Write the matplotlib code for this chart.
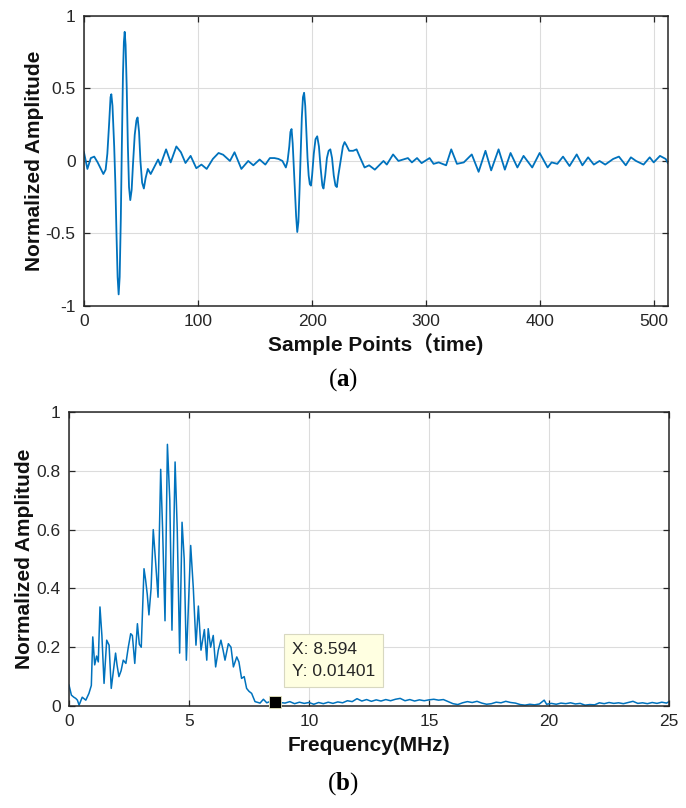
import numpy as np
import matplotlib.pyplot as plt

# time signal (sample index, normalized amplitude)
sig_x = [0, 3, 6, 9, 12, 17, 19, 20.5, 22, 23.3, 24, 25, 26.5, 27.5, 28.5, 29.5, 30.4, 31.3,
         32.3, 33.2, 34.2, 35, 35.7, 36.5, 37.5, 38.5, 39.5, 40.6, 41.8, 43, 44.5, 46, 47,
         48.3, 49.5, 51, 52.5, 54, 56, 58.5, 65, 67, 72, 76, 81, 85, 89, 93.5, 98.5, 103, 107.6,
         113, 118, 122, 128, 132, 138, 144, 148.5, 154, 159, 163, 167, 170.5, 174, 177, 178.5,
         180, 181, 182, 183, 184, 185, 186, 187, 188, 189, 190, 191, 192, 193, 194, 195, 196,
         197, 198, 199, 200, 201.5, 203, 204.5, 206, 207.5, 209, 210, 211.5, 213, 214.5, 216,
         217.5, 219, 220.5, 221.7, 223, 225, 227, 228.5, 230, 232.5, 236, 239, 242, 246, 250,
         255, 262.6, 265.5, 271, 275.7, 280, 284, 287.5, 292, 296, 303, 306.5, 311, 317.5, 322,
         327, 333, 340, 346, 352, 357, 363.5, 369, 374, 380, 385.4, 393, 399.5, 406.5, 410, 415,
         420, 425.7, 432, 437, 442, 447, 452, 457, 464, 469, 475, 479.5, 484, 490.6, 496, 499.5,
         505, 510, 512]
sig_y = [0.06, -0.055, 0.02, 0.03, -0.01, -0.09, -0.06, 0.05, 0.25, 0.44, 0.46, 0.38, 0.1,
         -0.15, -0.5, -0.8, -0.92, -0.8, -0.4, 0.1, 0.6, 0.82, 0.89, 0.8, 0.5, 0.1, -0.18, -0.27,
         -0.2, -0.02, 0.18, 0.28, 0.30, 0.2, 0.0, -0.15, -0.19, -0.12, -0.055, -0.09, 0.01,
         -0.03, 0.08, -0.01, 0.10, 0.06, -0.014, 0.035, -0.05, -0.025, -0.055, 0.014, 0.055,
         0.043, 0.0, 0.06, -0.055, 0.0, -0.03, 0.01, -0.025, 0.02, 0.02, 0.014, 0.0, -0.045,
         0.0, 0.1, 0.2, 0.22, 0.12, -0.05, -0.22, -0.38, -0.49, -0.42, -0.2, 0.05, 0.3, 0.44,
         0.47, 0.38, 0.2, 0.02, -0.1, -0.16, -0.17, -0.1, 0.05, 0.15, 0.17, 0.1, -0.05, -0.17,
         -0.19, -0.1, 0.02, 0.07, 0.08, 0.02, -0.1, -0.17, -0.18, -0.1, 0.0, 0.1, 0.13, 0.11,
         0.07, 0.07, 0.08, 0.025, -0.045, -0.03, -0.06, 0.0, -0.025, 0.045, 0.0, 0.01, 0.02,
         -0.01, 0.02, -0.015, 0.02, -0.02, -0.01, -0.03, 0.08, -0.02, -0.01, 0.045, -0.075,
         0.07, -0.065, 0.08, -0.06, 0.055, -0.045, 0.035, -0.045, 0.055, -0.045, -0.01, -0.02,
         0.03, -0.035, 0.045, -0.03, 0.025, -0.025, 0.0, -0.025, 0.014, 0.03, -0.03, 0.025, 0.0,
         -0.025, 0.025, -0.01, 0.035, 0.014, -0.015]

# amplitude spectrum (MHz, normalized amplitude)
spec_f = [0, 0.1, 0.2, 0.28, 0.35, 0.42, 0.55, 0.7, 0.83, 0.93, 0.99, 1.07, 1.15, 1.22, 1.29,
          1.37, 1.46, 1.57, 1.67, 1.76, 1.85, 1.94, 2.0, 2.08, 2.17, 2.26, 2.37, 2.47, 2.57,
          2.64, 2.74, 2.85, 2.93, 3.01, 3.125, 3.19, 3.26, 3.33, 3.42, 3.51, 3.6, 3.71, 3.82,
          3.9, 4.0, 4.1, 4.2, 4.29, 4.42, 4.51, 4.61, 4.71, 4.8, 4.89, 5.07, 5.18, 5.29, 5.39,
          5.5, 5.64, 5.74, 5.8, 5.9, 6.01, 6.11, 6.22, 6.33, 6.42, 6.5, 6.64, 6.75, 6.85, 6.99,
          7.08, 7.19, 7.3, 7.4, 7.5, 7.61, 7.75, 7.96, 8.1, 8.24, 8.4, 8.594,
          8.8, 9.0, 9.2, 9.4, 9.6, 9.8, 10.0, 10.2, 10.4, 10.6, 10.8, 11.0, 11.2, 11.4, 11.6,
          11.8, 12.0, 12.2, 12.4, 12.6, 12.8, 13.0, 13.2, 13.4, 13.6, 13.8, 14.0, 14.2, 14.4,
          14.6, 14.8, 15.0, 15.2, 15.4, 15.6, 15.8, 16.0, 16.2, 16.4, 16.6, 16.8, 17.0, 17.2,
          17.4, 17.6, 17.8, 18.0, 18.2, 18.4, 18.6, 18.8, 19.0, 19.2, 19.4, 19.6, 19.8, 19.9,
          20.1, 20.3, 20.5, 20.7, 20.9, 21.1, 21.3, 21.5, 21.7, 21.9, 22.1, 22.3, 22.5, 22.7,
          22.9, 23.1, 23.3, 23.5, 23.7, 23.9, 24.1, 24.3, 24.5, 24.7, 24.9, 25.0]
spec_v = [0.071, 0.037, 0.03, 0.026, 0.02, 0.003, 0.03, 0.02, 0.043, 0.07, 0.235, 0.14, 0.17,
          0.15, 0.337, 0.24, 0.077, 0.224, 0.207, 0.06, 0.12, 0.18, 0.14, 0.10, 0.12, 0.156,
          0.145, 0.2, 0.246, 0.24, 0.145, 0.28, 0.21, 0.2, 0.467, 0.43, 0.38, 0.31, 0.4, 0.6,
          0.5, 0.37, 0.805, 0.6, 0.29, 0.89, 0.7, 0.258, 0.83, 0.6, 0.18, 0.625, 0.5, 0.156,
          0.546, 0.4, 0.207, 0.34, 0.19, 0.26, 0.156, 0.263, 0.2, 0.24, 0.133, 0.19, 0.224,
          0.19, 0.156, 0.212, 0.2, 0.133, 0.167, 0.15, 0.094, 0.1, 0.06, 0.05, 0.043, 0.015,
          0.01, 0.023, 0.011, 0.016, 0.01401,
          0.012, 0.010, 0.015, 0.008, 0.013, 0.009, 0.012, 0.006, 0.012, 0.008, 0.013, 0.009,
          0.014, 0.011, 0.018, 0.015, 0.025, 0.017, 0.022, 0.016, 0.021, 0.017, 0.022, 0.018,
          0.023, 0.026, 0.018, 0.022, 0.017, 0.021, 0.018, 0.021, 0.023, 0.020, 0.022, 0.015,
          0.008, 0.005, 0.011, 0.015, 0.012, 0.016, 0.01, 0.006, 0.008, 0.013, 0.011, 0.016,
          0.012, 0.010, 0.005, 0.003, 0.006, 0.004, 0.007, 0.02, 0.006, 0.009, 0.006, 0.01,
          0.008, 0.011, 0.007, 0.009, 0.003, 0.005, 0.004, 0.011, 0.008, 0.012, 0.009, 0.011,
          0.008, 0.012, 0.016, 0.009, 0.011, 0.008, 0.012, 0.009, 0.013, 0.01, 0.015]

tip_x = 8.594
tip_y = 0.01401

plt.rcParams['font.family'] = ['Liberation Sans', 'Noto Sans CJK SC', 'DejaVu Sans']
plt.rcParams['mathtext.fontset'] = 'custom'
plt.rcParams['mathtext.bf'] = 'Liberation Serif:bold'
plt.rcParams['mathtext.rm'] = 'Liberation Serif'

blue = '#0072BD'
dark = '#262626'

fig = plt.figure(figsize=(6.86, 8.08), dpi=100)
ax1 = fig.add_axes([0.1224, 0.6213, 0.8513, 0.359])
ax2 = fig.add_axes([0.1006, 0.1262, 0.8746, 0.3639])


def style(ax):
    ax.grid(True, color='#DCDCDC', lw=0.8)
    ax.set_axisbelow(True)
    ax.tick_params(direction='in', top=True, right=True, length=4, width=0.9,
                   labelsize=12.5, colors=dark, pad=6)
    for s in ax.spines.values():
        s.set_color(dark)
        s.set_linewidth(1.1)


ax1.plot(sig_x, sig_y, color=blue, lw=1.3)
ax1.set_xlim(0, 512)
ax1.set_ylim(-1, 1)
ax1.set_xticks([0, 100, 200, 300, 400, 500])
ax1.set_yticks([-1, -0.5, 0, 0.5, 1])
ax1.set_yticklabels(['-1', '-0.5', '0', '0.5', '1'])
style(ax1)
ax1.set_xlabel('Sample Points（time)', fontsize=15, fontweight='bold', color='#111111', labelpad=3)
ax1.set_ylabel('Normalized Amplitude', fontsize=15, fontweight='bold', color='#111111', labelpad=1)

ax2.plot(spec_f, spec_v, color=blue, lw=1.1)
ax2.set_xlim(0, 25)
ax2.set_ylim(0, 1)
ax2.set_xticks([0, 5, 10, 15, 20, 25])
ax2.set_yticks([0, 0.2, 0.4, 0.6, 0.8, 1])
ax2.set_yticklabels(['0', '0.2', '0.4', '0.6', '0.8', '1'])
style(ax2)
ax2.set_xlabel('Frequency(MHz)', fontsize=15, fontweight='bold', color='#111111', labelpad=5)
ax2.set_ylabel('Normalized Amplitude', fontsize=15, fontweight='bold', color='#111111', labelpad=2)

ax2.plot([tip_x], [tip_y], 's', color='black', ms=9, mec='#E8E8C0', mew=0.6, zorder=5, clip_on=False)
ax2.text(9.3, 0.155, 'X: %.3f\nY: %.5f' % (tip_x, tip_y), fontsize=12.5, color=dark,
         va='center', ha='left', linespacing=1.6,
         bbox=dict(boxstyle='square,pad=0.45', fc='#FFFFE1', ec='#D8D8C0', lw=0.8))

fig.text(0.5, 0.53, r'($\mathbf{a}$)', ha='center', va='center', fontsize=18, family='Liberation Serif')
fig.text(0.5, 0.03, r'($\mathbf{b}$)', ha='center', va='center', fontsize=18, family='Liberation Serif')

fig.savefig('out.png', dpi=100)
